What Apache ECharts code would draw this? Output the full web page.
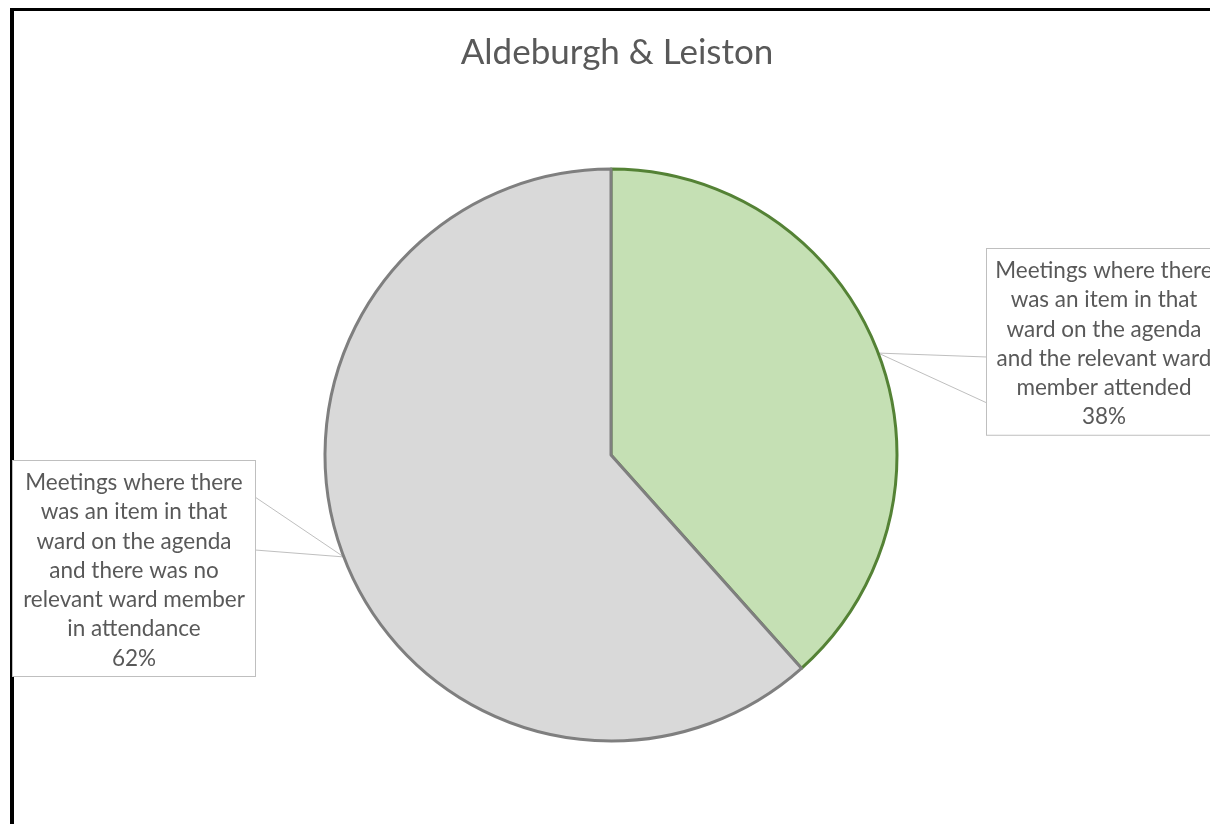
<!DOCTYPE html>
<html>
<head>
<meta charset="utf-8">
<script src="https://cdn.jsdelivr.net/npm/echarts@6/dist/echarts.min.js"></script>
<style>
html,body{margin:0;padding:0;background:#fff;}
#chart{width:1210px;height:824px;}
</style>
</head>
<body>
<div id="chart"></div>
<script>
const titleText = 'Aldeburgh & Leiston';
const categories = [
  'Meetings where there\nwas an item in that\nward on the agenda\nand the relevant ward\nmember attended',
  'Meetings where there\nwas an item in that\nward on the agenda\nand there was no\nrelevant ward member\nin attendance'
];
const values = [38.4, 61.6];
const fillColors = ['#C5E0B4', '#D9D9D9'];
const borderColors = ['#548235', '#7F7F7F'];

// label box placement (center x, top y) and pointer gap on the box edge
const boxPlacement = [
  { cx: 1104, top: 249, w: 216, edgeX: 987, gap: [357, 403] },
  { cx: 134, top: 461, w: 224, edgeX: 255, gap: [497, 550] }
];

const chart = echarts.init(document.getElementById('chart'), null, { renderer: 'canvas' });

const option = {
  animation: false,
  backgroundColor: '#ffffff',
  title: {
    text: titleText,
    left: 612,
    top: 28,
    textAlign: 'center',
    textStyle: {
      fontFamily: 'Lato',
      fontWeight: 'normal',
      fontSize: 35,
      lineHeight: 40,
      color: '#595959'
    }
  },
  graphic: [
    { type: 'rect', shape: { x: 10, y: 8, width: 1300, height: 3 }, style: { fill: '#000' }, silent: true },
    { type: 'rect', shape: { x: 10, y: 8, width: 4, height: 900 }, style: { fill: '#000' }, silent: true }
  ],
  series: [{
    type: 'pie',
    center: [611, 455],
    radius: [0, 286],
    startAngle: 90,
    clockwise: true,
    silent: true,
    emphasis: { disabled: true },
    data: categories.map((c, i) => ({
      name: c,
      value: values[i],
      itemStyle: { color: fillColors[i], borderColor: borderColors[i], borderWidth: 3 },
      label: { width: boxPlacement[i].w }
    })),
    label: {
      show: true,
      position: 'outside',
      formatter: p => p.name + '\n' + p.percent.toFixed(0) + '%',
      fontFamily: 'Lato',
      fontSize: 22.5,
      lineHeight: 29.3,
      color: '#595959',
      align: 'center',
      overflow: 'none',
      backgroundColor: '#ffffff',
      borderColor: '#BFBFBF',
      borderWidth: 1,
      padding: [7, 9, 3, 9]
    },
    labelLine: {
      show: true,
      lineStyle: { color: '#BFBFBF', width: 1 }
    },
    labelLayout: function (params) {
      const b = boxPlacement[params.dataIndex];
      const start = params.labelLinePoints ? params.labelLinePoints[0] : null;
      const res = { x: b.cx, y: b.top, align: 'center', verticalAlign: 'top' };
      if (start) {
        res.labelLinePoints = [[b.edgeX, b.gap[0]], [start[0], start[1]], [b.edgeX, b.gap[1]]];
      }
      return res;
    }
  }]
};
chart.setOption(option);
</script>
</body>
</html>
